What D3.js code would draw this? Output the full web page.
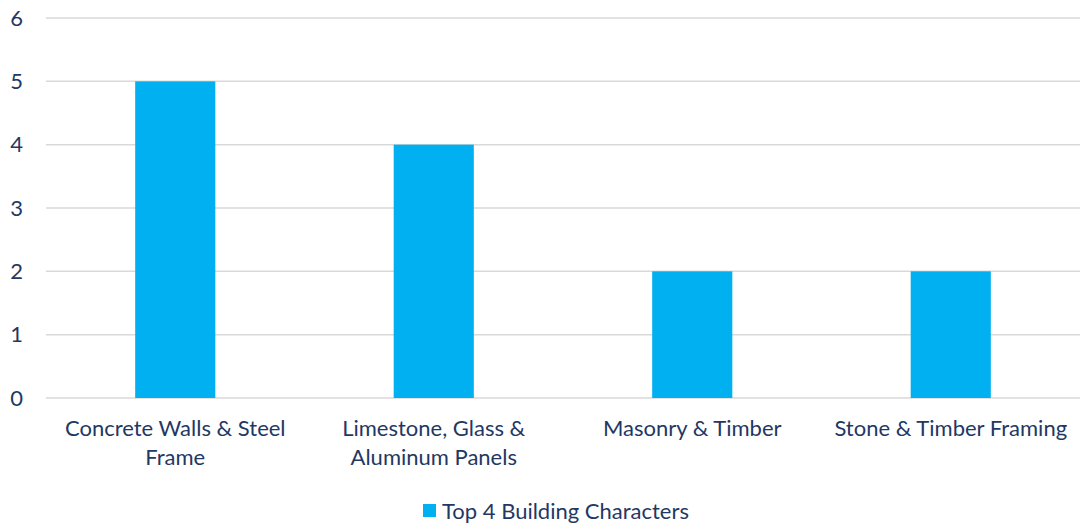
<!DOCTYPE html>
<html lang="en">
<head>
<meta charset="UTF-8">
<title>Top 4 Building Characters</title>
<style>
  body { margin: 0; background: #fff; }
  text { font-family: Lato, "Open Sans", sans-serif; fill: #1F3864; }
</style>
</head>
<body>
<div id="chart"></div>
<script src="https://d3js.org/d3.v7.min.js"></script>
<script>
const categories = [
  ["Concrete Walls & Steel", "Frame"],
  ["Limestone, Glass &", "Aluminum Panels"],
  ["Masonry & Timber"],
  ["Stone & Timber Framing"]
];
const values = [5, 4, 2, 2];
const yTicks = [0, 1, 2, 3, 4, 5, 6];
const seriesName = "Top 4 Building Characters";

const width = 1080, height = 529;
const margin = { top: 18, right: 0, bottom: 131, left: 46 };
const fontSize = 22;

const svg = d3.select("#chart").append("svg")
  .attr("width", width)
  .attr("height", height);

const x = d3.scaleBand()
  .domain(d3.range(categories.length))
  .range([margin.left, width - margin.right])
  .paddingInner(0.69)
  .paddingOuter(0.345);

const y = d3.scaleLinear()
  .domain([0, 6])
  .range([height - margin.bottom, margin.top]);

// gridlines
svg.append("g")
  .selectAll("line")
  .data(yTicks)
  .enter().append("line")
  .attr("x1", margin.left)
  .attr("x2", width - margin.right)
  .attr("y1", d => y(d))
  .attr("y2", d => y(d))
  .attr("stroke", "#D9D9D9")
  .attr("stroke-width", 1.5);

// y labels
svg.append("g")
  .selectAll("text")
  .data(yTicks)
  .enter().append("text")
  .attr("x", 23)
  .attr("y", d => y(d))
  .attr("dy", "0.35em")
  .attr("text-anchor", "end")
  .attr("font-size", fontSize)
  .text(d => d);

// bars
svg.append("g")
  .selectAll("rect")
  .data(values)
  .enter().append("rect")
  .attr("x", (d, i) => x(i))
  .attr("width", x.bandwidth())
  .attr("y", d => y(d))
  .attr("height", d => y(0) - y(d))
  .attr("fill", "#00B0F0");

// category labels
const catLabels = svg.append("g")
  .selectAll("text")
  .data(categories)
  .enter().append("text")
  .attr("text-anchor", "middle")
  .attr("font-size", fontSize)
  .attr("transform", (d, i) => `translate(${x(i) + x.bandwidth() / 2},${y(0) + 38})`);

catLabels.selectAll("tspan")
  .data(d => d)
  .enter().append("tspan")
  .attr("x", 0)
  .attr("y", (d, i) => i * 29)
  .text(d => d);

// legend
const legend = svg.append("g").attr("transform", "translate(423,504)");
legend.append("rect")
  .attr("width", 13)
  .attr("height", 13)
  .attr("fill", "#00B0F0");
legend.append("text")
  .attr("x", 19)
  .attr("y", 7)
  .attr("dy", "0.35em")
  .attr("font-size", fontSize)
  .text(seriesName);
</script>
</body>
</html>
